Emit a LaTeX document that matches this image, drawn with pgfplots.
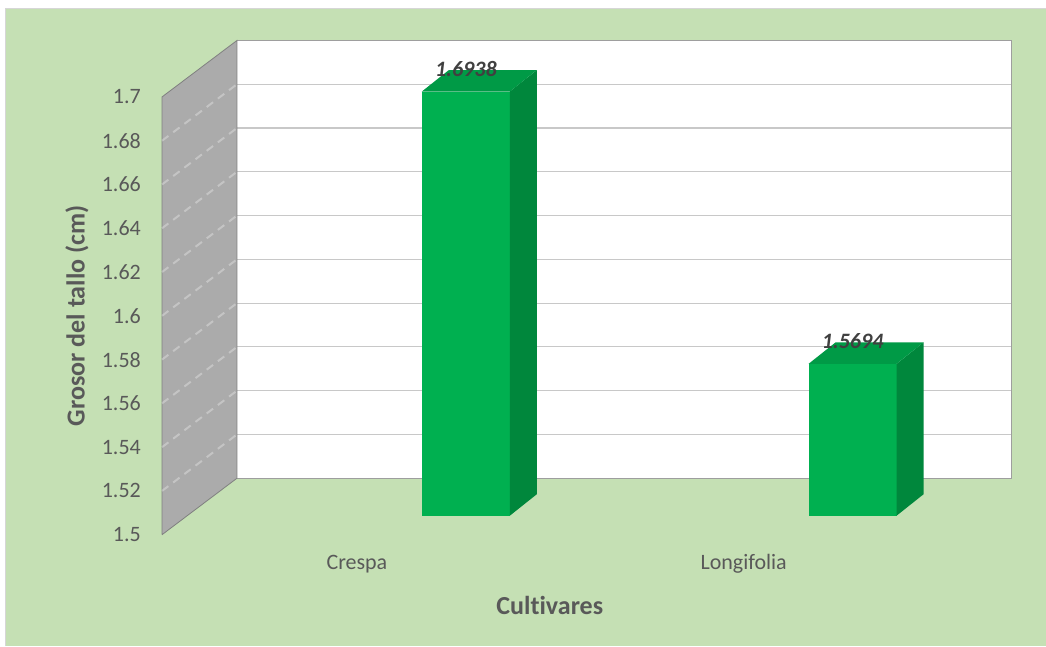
\documentclass[border=0pt]{standalone}
\usepackage{pgfplots}
\pgfplotsset{compat=1.18}
\usepackage{fontspec}
\setmainfont{Carlito}[Ligatures={NoCommon}]
\definecolor{bggreen}{HTML}{C5E0B4}
\definecolor{txtgray}{HTML}{595959}
\definecolor{lblgray}{HTML}{404040}
\definecolor{barfront}{HTML}{00B050}
\definecolor{barside}{HTML}{00873C}
\definecolor{bartop}{HTML}{009A46}
\definecolor{wallgray}{HTML}{ABABAB}
\definecolor{gridgray}{HTML}{C8C8C8}
% one bar: #1 = left x of front face (px), #2 = value
\newcommand{\tdbar}[2]{%
  \pgfmathsetmacro{\xa}{#1}\pgfmathsetmacro{\xb}{#1+88}%
  \pgfmathsetmacro{\xc}{#1+27}\pgfmathsetmacro{\xd}{#1+115}%
  \pgfmathsetmacro{\yb}{1.50868}\pgfmathsetmacro{\ybb}{1.50868+0.0098}%
  \pgfmathsetmacro{\yt}{#2+0.00868}\pgfmathsetmacro{\ytt}{#2+0.00868+0.0098}%
  \addplot[fill=barfront, draw=none] coordinates {(\xa,\yb) (\xb,\yb) (\xb,\yt) (\xa,\yt)};
  \addplot[fill=barside, draw=none] coordinates {(\xb,\yb) (\xd,\ybb) (\xd,\ytt) (\xb,\yt)};
  \addplot[fill=bartop, draw=none] coordinates {(\xa,\yt) (\xc,\ytt) (\xd,\ytt) (\xb,\yt)};
}
\begin{document}
\begin{tikzpicture}
\begin{axis}[
  width=1046bp, height=646bp, scale only axis,
  xmin=0, xmax=1046, ymin=1.449315, ymax=1.744292,
  clip=false,
  axis line style={draw=none},
  major tick length=0pt,
  xtick=\empty,
  ytick={1.5,1.52,1.54,1.56,1.58,1.6,1.62,1.64,1.66,1.68,1.7},
  yticklabels={1.5,1.52,1.54,1.56,1.58,1.6,1.62,1.64,1.66,1.68,1.7},
  yticklabel style={anchor=east, xshift=141bp, inner sep=0pt, text=txtgray,
    font=\fontsize{22bp}{26bp}\selectfont},
  axis on top=true,
]
% page background and chart area
\addplot[fill=white, draw=none] coordinates {(0,1.449315) (1046,1.449315) (1046,1.744292) (0,1.744292)};
\addplot[fill=bggreen, draw=none] coordinates {(5.5,1.449315) (1046,1.449315) (1046,1.740183) (5.5,1.740183)};
\addplot[draw=black!16, line width=1bp] coordinates {(5.5,1.449315) (5.5,1.740183) (1046,1.740183)};
% back wall
\addplot[fill=white, draw=none] coordinates {(237,1.5258) (1012,1.5258) (1012,1.7258) (237,1.7258)};
\addplot[draw=gridgray, line width=1.2bp] coordinates {(237,1.5458) (1012,1.5458)};
\addplot[draw=gridgray, line width=1.2bp] coordinates {(237,1.5658) (1012,1.5658)};
\addplot[draw=gridgray, line width=1.2bp] coordinates {(237,1.5858) (1012,1.5858)};
\addplot[draw=gridgray, line width=1.2bp] coordinates {(237,1.6058) (1012,1.6058)};
\addplot[draw=gridgray, line width=1.2bp] coordinates {(237,1.6258) (1012,1.6258)};
\addplot[draw=gridgray, line width=1.2bp] coordinates {(237,1.6458) (1012,1.6458)};
\addplot[draw=gridgray, line width=1.2bp] coordinates {(237,1.6658) (1012,1.6658)};
\addplot[draw=gridgray, line width=1.2bp] coordinates {(237,1.6858) (1012,1.6858)};
\addplot[draw=gridgray, line width=1.2bp] coordinates {(237,1.7058) (1012,1.7058)};
\addplot[draw=black!38, line width=1.2bp] coordinates {(237,1.7258) (1012,1.7258) (1012,1.5258) (237,1.5258)};
% left side wall
\addplot[fill=wallgray, draw=black!50, line width=0.8bp] coordinates {(162,1.5) (237,1.5258) (237,1.7258) (162,1.7) (162,1.5)};
\addplot[draw=white, opacity=0.3, line width=2bp, dash pattern=on 8bp off 6bp] coordinates {(162,1.52) (237,1.5458)};
\addplot[draw=white, opacity=0.3, line width=2bp, dash pattern=on 8bp off 6bp] coordinates {(162,1.54) (237,1.5658)};
\addplot[draw=white, opacity=0.3, line width=2bp, dash pattern=on 8bp off 6bp] coordinates {(162,1.56) (237,1.5858)};
\addplot[draw=white, opacity=0.3, line width=2bp, dash pattern=on 8bp off 6bp] coordinates {(162,1.58) (237,1.6058)};
\addplot[draw=white, opacity=0.3, line width=2bp, dash pattern=on 8bp off 6bp] coordinates {(162,1.6) (237,1.6258)};
\addplot[draw=white, opacity=0.3, line width=2bp, dash pattern=on 8bp off 6bp] coordinates {(162,1.62) (237,1.6458)};
\addplot[draw=white, opacity=0.3, line width=2bp, dash pattern=on 8bp off 6bp] coordinates {(162,1.64) (237,1.6658)};
\addplot[draw=white, opacity=0.3, line width=2bp, dash pattern=on 8bp off 6bp] coordinates {(162,1.66) (237,1.6858)};
\addplot[draw=white, opacity=0.3, line width=2bp, dash pattern=on 8bp off 6bp] coordinates {(162,1.68) (237,1.7058)};
% bars
\tdbar{422}{1.6938}
\tdbar{809}{1.5694}
% data labels
\node[font=\fontsize{22bp}{26bp}\selectfont\bfseries\itshape, text=lblgray, inner sep=0pt] at (axis cs:466,1.7127) {1.6938};
\node[font=\fontsize{22bp}{26bp}\selectfont\bfseries\itshape, text=lblgray, inner sep=0pt] at (axis cs:853,1.5883) {1.5694};
% category labels and titles
\node[font=\fontsize{22bp}{26bp}\selectfont, text=txtgray, inner sep=0pt] at (axis cs:357,1.48676) {Crespa};
\node[font=\fontsize{22bp}{26bp}\selectfont, text=txtgray, inner sep=0pt] at (axis cs:744,1.48676) {Longifolia};
\node[font=\fontsize{26bp}{30bp}\selectfont\bfseries, text=txtgray, inner sep=0pt] at (axis cs:550,1.46758) {Cultivares};
\node[font=\fontsize{26bp}{30bp}\selectfont\bfseries, text=txtgray, inner sep=0pt, rotate=90] at (axis cs:77,1.6) {Grosor del tallo (cm)};
\end{axis}
\end{tikzpicture}
\end{document}
